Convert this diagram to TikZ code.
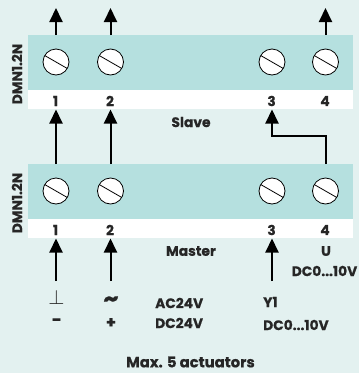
\documentclass[tikz,border=0pt]{standalone}
\usepackage{fontspec}
\setmainfont[BoldFeatures={FakeBold=0.6}]{Poppins}
\usetikzlibrary{arrows.meta}
\definecolor{paleteal}{HTML}{E3F1F0}
\definecolor{blockteal}{HTML}{B5E0DF}
\tikzset{
  screw/.style={circle,draw=black,fill=white,line width=0.8pt,minimum size=26pt,inner sep=0pt},
  wire/.style={line width=2pt,-{Triangle[length=14pt,width=13pt]}},
  lab/.style={font=\bfseries\fontsize{13.8}{14}\selectfont,inner sep=0pt,text=black!85},
  labl/.style={lab,anchor=west},
}
\begin{document}
\begin{tikzpicture}[x=1pt,y=-1pt]
\useasboundingbox (0,0) rectangle (359,373);
\fill[paleteal] (0,0) rectangle (359,373);
% two modules
\foreach \t/\name in {0/s,129/m}{
\fill[blockteal] (28,35+\t) rectangle (353,90+\t);
\fill[white] (28,90+\t) rectangle (353,109+\t);
\node[lab,rotate=90] at (17,74+\t) {DMN1.2N};
\foreach \n/\x in {1/56,2/110.5,3/272,4/325.5}{
\node[screw] (\name\n) at (\x,62+\t) {};
\draw[line width=0.8pt] (\x-11.3,55.5+\t) -- (\x+11.3,68.5+\t);
\node[lab] (\name t\n) at (\x-0.5,101+\t) {\n};
\coordinate (\name top\n) at (\x,35+\t);
\coordinate (\name tip\n) at (\x,109.5+\t);
}
}
% free ends
\coordinate (o1) at (56,8);
\coordinate (o2) at (110.5,8);
\coordinate (o4) at (325.5,8);
\coordinate (i1) at (56,281);
\coordinate (i2) at (110.5,281);
\coordinate (i3) at (272,281);
\draw[wire] (stop1) -- (o1);
\draw[wire] (stop2) -- (o2);
\draw[wire] (stop4) -- (o4);
\draw[wire] (mtop1) -- (stip1);
\draw[wire] (mtop2) -- (stip2);
\draw[wire] (mtop4) -- (325.5,136) -- (272,136) -- (stip3);
\draw[wire] (i1) -- (mtip1);
\draw[wire] (i2) -- (mtip2);
\draw[wire] (i3) -- (mtip3);
% texts
\node[lab] (slave) at (191,122) {Slave};
\node[lab] (master) at (191,251) {Master};
\node[lab] (u) at (326,251) {U};
\node[lab] (udc) at (324.5,271) {DC0...10V};
\node[labl] (y1) at (263,302) {Y1};
\node[labl] (ydc) at (263,325) {DC0...10V};
\node[labl] (ac) at (155,303) {AC24V};
\node[labl] (dc) at (155,323) {DC24V};
\node[lab] (gnd) at (56.5,297.5) {\fontsize{22}{22}\selectfont$\perp$};
\node[lab] (sine) at (111,301.5) {\fontsize{24}{24}\selectfont\char"7E};
\node[lab] (minus) at (56.5,322) {\fontsize{17}{17}\selectfont−};
\node[lab] (plus) at (111,323) {\fontsize{16}{16}\selectfont+};
\node[lab,font=\bfseries\fontsize{14.8}{15}\selectfont] (max) at (190.5,362) {Max. 5 actuators};
\end{tikzpicture}
\end{document}
